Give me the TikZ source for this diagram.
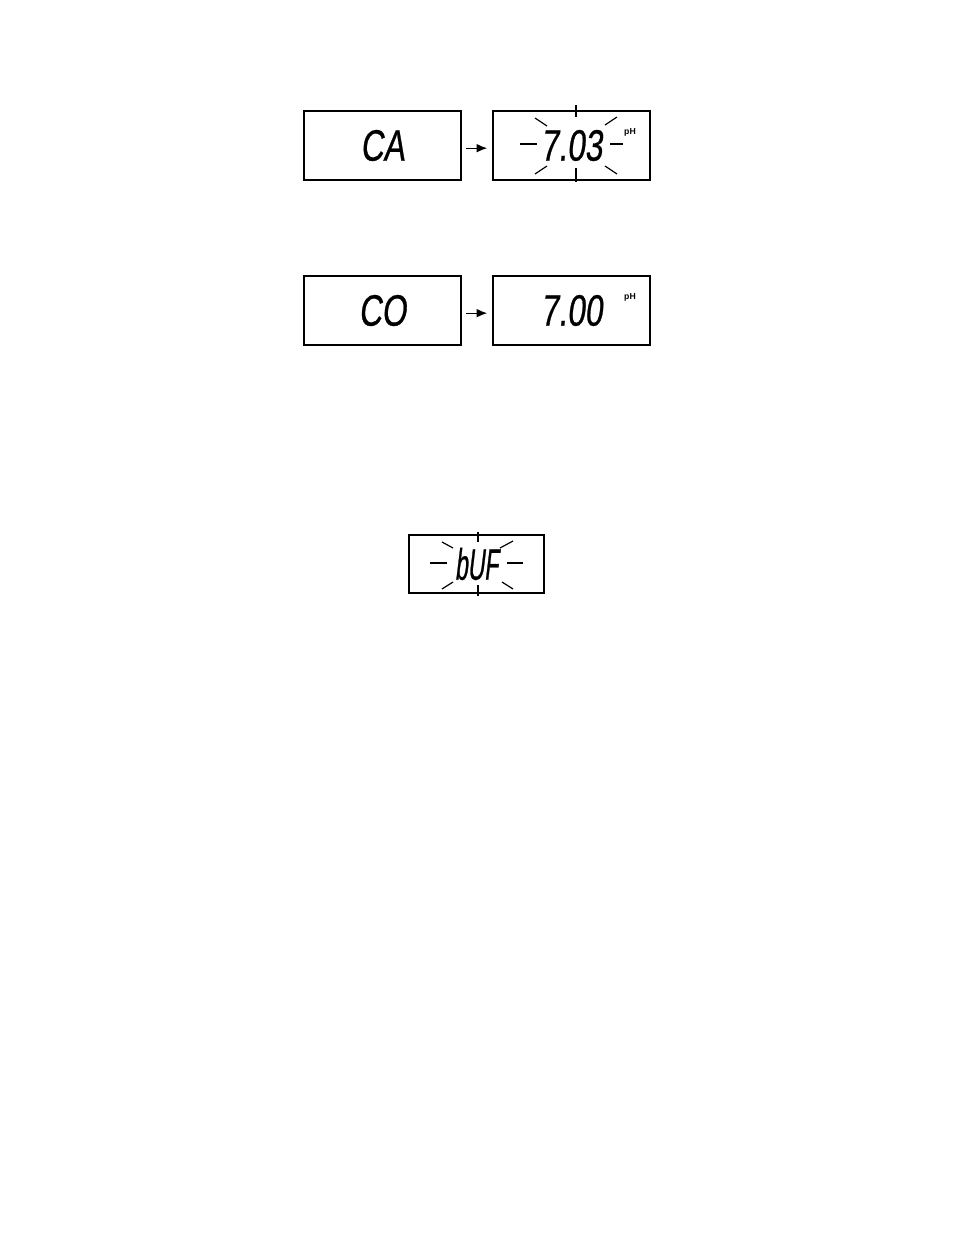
\documentclass[tikz,border=0pt]{standalone}
\usepackage{fontspec}
\setmainfont{Liberation Sans}
\newfontfamily\lcdfont{Liberation Sans}[FakeStretch=0.72,FakeSlant=0.12,FakeBold=0.6]
\newfontfamily\lcdnarrow{Liberation Sans}[FakeStretch=0.52,FakeSlant=0.12,FakeBold=0.6]
\usetikzlibrary{arrows.meta,positioning}

\begin{document}
\begin{tikzpicture} [
        x = 0.75pt, y = -0.75pt,
        lcd/.style = { draw, line width = 1.5pt, inner sep = 0,
                       minimum width = 117.75pt, minimum height = 51.75pt,
                       font = \lcdfont\fontsize{33}{33}\selectfont },
        small lcd/.style = { lcd, minimum width = 101.25pt, minimum height = 43.5pt,
                       font = \lcdnarrow\fontsize{33}{33}\selectfont },
        unit/.style = { inner sep = 0, font = \bfseries\fontsize{6.5}{6.5}\selectfont },
        blink/.style = { line width = 0.9pt },
        next/.style = { -{Latex[length=8pt,width=6.5pt]}, line width = 1pt,
                        shorten < = 3pt, shorten > = 3.5pt }
        ]

        \useasboundingbox (0,0) rectangle (954,1235);

        % first row
        \node [lcd] (ca) at (382.5,145.5) {CA};
        \node [lcd] (read1) at (571.5,145.5) {7.03};
        \node [unit] (ph1) at (630,132) {pH};
        \draw [next] ([yshift=-2pt]ca.east) -- ([yshift=-2pt]read1.west);
        \foreach \xa/\ya/\xb/\yb in {576/105/576/117, 576/168/576/182, 520/144/537/144, 610/144/623/144,
                           535/118/547/126, 605/125/617/117, 535/174/547/166, 605/166/617/174}
            \draw [blink] (\xa,\ya) -- (\xb,\yb);

        % second row
        \node [lcd] (co) at (382.5,310.5) {CO};
        \node [lcd] (read2) at (571.5,310.5) {7.00};
        \node [unit] (ph2) at (630,297) {pH};
        \draw [next] ([yshift=-2pt]co.east) -- ([yshift=-2pt]read2.west);

        % buffer
        \node [small lcd] (buf) at (476.5,564) {bUF};
        \foreach \xa/\ya/\xb/\yb in {478/532/478/542, 478/585/478/596, 430/563/447/563, 507/563/523/563,
                           442/542/453/548, 500/548/513/541, 442/589/453/582, 502/582/513/589}
            \draw [blink] (\xa,\ya) -- (\xb,\yb);
    \end{tikzpicture}
\end{document}
